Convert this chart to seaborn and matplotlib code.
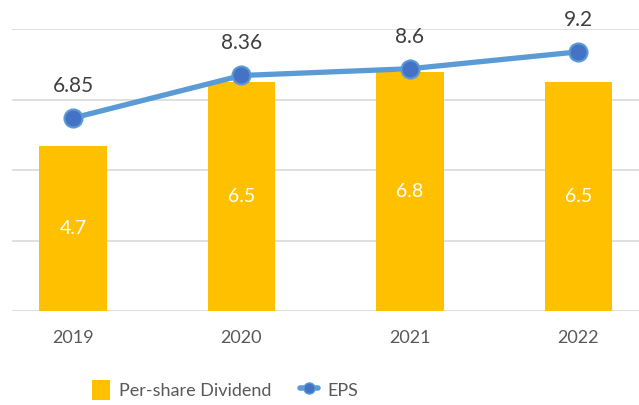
import matplotlib
matplotlib.use("Agg")
import matplotlib.pyplot as plt
import seaborn as sns
import pandas as pd
from matplotlib.lines import Line2D
from matplotlib.patches import Patch

# data
years = ["2019", "2020", "2021", "2022"]
dividend = [4.7, 6.5, 6.8, 6.5]
eps = [6.85, 8.36, 8.6, 9.2]
eps_labels = ["6.85", "8.36", "8.6", "9.2"]

df = pd.DataFrame({"year": years, "dividend": dividend, "eps": eps})

sns.set_theme(style="white")
plt.rcParams["font.family"] = ["Lato", "DejaVu Sans"]

BAR = "#FFC000"
LINE = "#5B9BD5"
MARK = "#4472C4"
TXT = "#404040"
GRID = "#D9D9D9"

fig = plt.figure(figsize=(6.39, 4.05), dpi=100)
ax = fig.add_axes([12 / 639, 1 - 311 / 405, 1 - 12 / 639, (311 - 29.3) / 405])

sns.barplot(data=df, x="year", y="dividend", color=BAR, width=0.4, ax=ax,
            saturation=1, edgecolor="none")
ax.set_ylim(0, 8)
ax.set_yticks([0, 2, 4, 6, 8])
ax.yaxis.grid(True, color=GRID, linewidth=1.2)
ax.set_axisbelow(True)
ax.set_xlim(-0.362, 3.36)
ax.set_yticklabels([])
ax.tick_params(axis="y", length=0)
ax.tick_params(axis="x", length=0, labelsize=13, labelcolor="#595959", pad=14)
ax.set_xlabel("")
ax.set_ylabel("")
for s in ax.spines.values():
    s.set_visible(False)

for c in ax.containers:
    ax.bar_label(c, labels=[str(v) for v in dividend], label_type="center",
                 color="white", fontsize=14)

ax2 = ax.twinx()
sns.lineplot(data=df, x="year", y="eps", ax=ax2, color=LINE, linewidth=3.8,
             marker="o", markersize=13, markerfacecolor=MARK,
             markeredgecolor=LINE, markeredgewidth=1.5, zorder=5)
ax2.set_ylim(0, 10)
ax2.set_yticks([])
ax2.set_ylabel("")
for s in ax2.spines.values():
    s.set_visible(False)

for i, v in enumerate(eps):
    ax2.annotate(eps_labels[i], (i, v), xytext=(0, 16), textcoords="offset points",
                 ha="center", va="bottom", fontsize=15, color=TXT)

handles = [
    Patch(facecolor=BAR, edgecolor="none", label="Per-share Dividend"),
    Line2D([0], [0], color=LINE, linewidth=4, marker="o", markersize=8,
           markerfacecolor=MARK, markeredgecolor=LINE, label="EPS"),
]
fig.legend(handles=handles, loc="center", bbox_to_anchor=(0.352, 1 - 390 / 405),
           ncol=2, frameon=False, fontsize=13, labelcolor="#595959",
           handlelength=1.0, handleheight=1.4, columnspacing=1.6, handletextpad=0.5)
# make the line handle wider than the square
leg = fig.legends[0]

fig.savefig("out.png", dpi=100)
